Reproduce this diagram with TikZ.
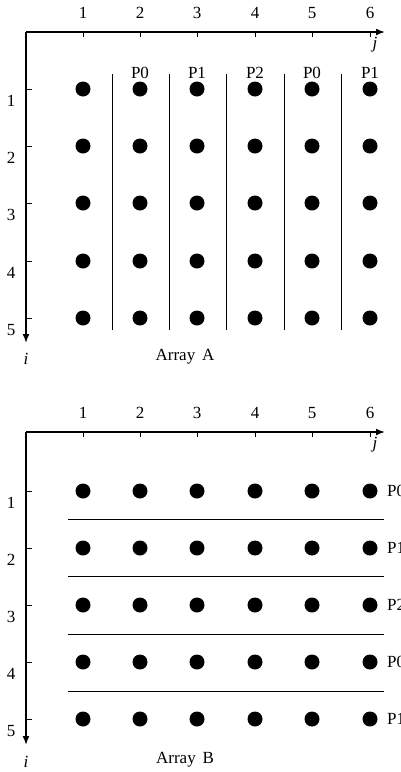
\documentclass[tikz,border=0pt]{standalone}
\usepackage{fontspec}
\setmainfont{Liberation Serif}
\usetikzlibrary{arrows.meta}
\begin{document}
\begin{tikzpicture}[x=1pt,y=-1pt,
 dot/.style={circle,fill=black,inner sep=0pt,minimum size=15pt},
 axis/.style={line width=1.6pt,-{Latex[length=9pt,width=7pt]}},
 tickmark/.style={line width=0.8pt},
 sepline/.style={line width=0.9pt},
 lab/.style={font=\fontsize{17}{19}\selectfont,inner sep=0pt},
 ilab/.style={font=\fontsize{17}{19}\selectfont\itshape,inner sep=0pt},
]
\useasboundingbox (0,0) rectangle (401,772);
\clip (0,0) rectangle (401,772);
% ---------- Array A ----------
\coordinate (oA) at (26,32);
\coordinate (jA) at (385,32);
\coordinate (iA) at (26,343);
\draw[axis] (oA) -- (jA);
\draw[axis] (oA) -- (iA);
\node[ilab] (jlabA) at (375,45) {j};
\node[ilab] (ilabA) at (26,359) {i};
\node[lab] (titleA) at (185,357) {Array\hspace{0.4em}A};
\foreach \c [count=\k] in {83,140,197,255,312,370} {
  \draw[tickmark] (\c,32) -- (\c,37);
  \node[lab] (cA\k) at (\c,13) {\k};
}
\foreach \r [count=\m] in {89,146,203,261,318} {
  \draw[tickmark] (26,\r) -- (32,\r);
  \node[lab] (rA\m) at (11,\r+12) {\m};
  \foreach \c [count=\k] in {83,140,197,255,312,370} {
    \node[dot] (a-\m-\k) at (\c,\r) {};
  }
}
\foreach \x in {112,169,226,284,341} {
  \draw[sepline] (\x,74) -- (\x,330);
}
\foreach \c/\p [count=\k] in {140/P0,197/P1,255/P2,312/P0,370/P1} {
  \node[lab] (pA\k) at (\c,73) {\p};
}
% ---------- Array B ----------
\coordinate (oB) at (26,432);
\coordinate (jB) at (385,432);
\coordinate (iB) at (26,745);
\draw[axis] (oB) -- (jB);
\draw[axis] (oB) -- (iB);
\node[ilab] (jlabB) at (375,445) {j};
\node[ilab] (ilabB) at (26,762) {i};
\node[lab] (titleB) at (185,760) {Array\hspace{0.4em}B};
\foreach \c [count=\k] in {83,140,197,255,312,370} {
  \draw[tickmark] (\c,432) -- (\c,437);
  \node[lab] (cB\k) at (\c,413) {\k};
}
\foreach \r/\p [count=\m] in {491/P0,548/P1,605/P2,662/P0,719/P1} {
  \draw[tickmark] (26,\r) -- (32,\r);
  \node[lab] (rB\m) at (11,\r+12) {\m};
  \foreach \c [count=\k] in {83,140,197,255,312,370} {
    \node[dot] (b-\m-\k) at (\c,\r) {};
  }
  \node[lab,anchor=west] (pB\m) at (387,\r) {\p};
}
\foreach \y in {519.5,576.5,634,691} {
  \draw[sepline] (68,\y) -- (384,\y);
}
\end{tikzpicture}
\end{document}
